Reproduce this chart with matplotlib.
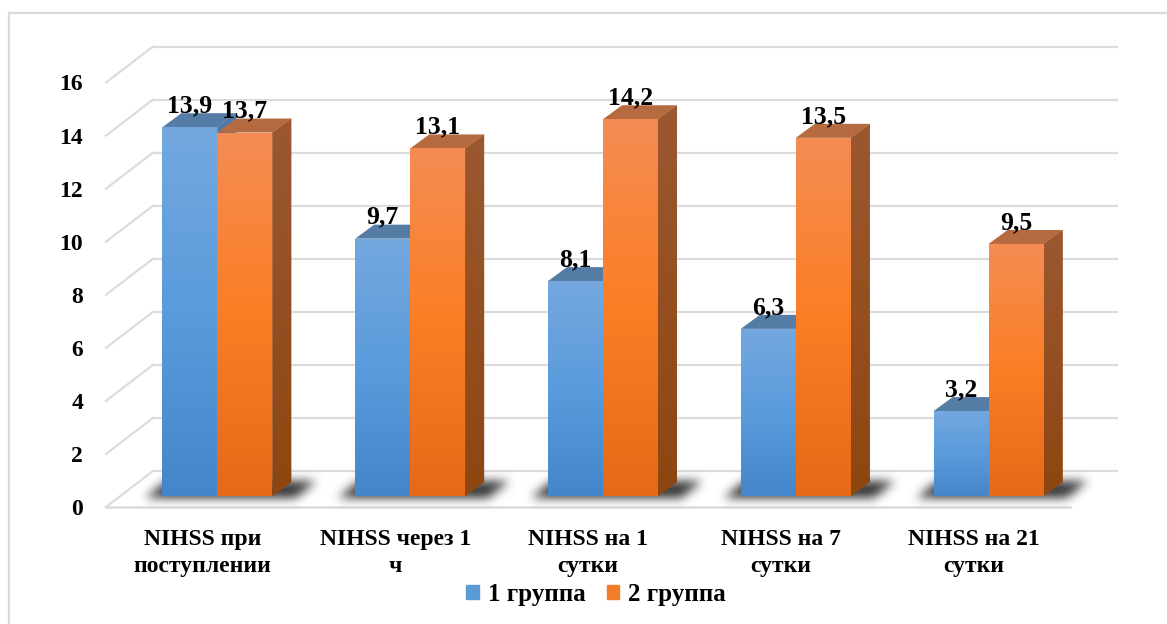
import numpy as np
import matplotlib
matplotlib.use("Agg")
import matplotlib.pyplot as plt
from matplotlib.patches import Polygon, Patch
from matplotlib.transforms import IdentityTransform, Affine2D
from matplotlib.lines import Line2D

categories = ["NIHSS при\nпоступлении", "NIHSS через 1\nч", "NIHSS на 1\nсутки",
              "NIHSS на 7\nсутки", "NIHSS на 21\nсутки"]
group1 = [13.9, 9.7, 8.1, 6.3, 3.2]
group2 = [13.7, 13.1, 14.2, 13.5, 9.5]
series_names = ["1 группа", "2 группа"]
y_ticks = [0, 2, 4, 6, 8, 10, 12, 14, 16]

W, H = 1167, 624
plt.rcParams["font.family"] = ["Liberation Serif", "DejaVu Serif"]
plt.rcParams["font.weight"] = "bold"
fig = plt.figure(figsize=(W / 100, H / 100), dpi=100, facecolor="white")
L, R, Y0, Ytop = 106, 1070, 507, 82.5
ax = fig.add_axes([L / W, (H - Y0) / H, (R - L) / W, (Y0 - Ytop) / H])
PX = (R - L) / 5
PY = (Y0 - Ytop) / 16
ddx = lambda p: p / PX
ddy = lambda p: p / PY
GRID = "#dcdcdc"

# frame of the chart: top and left edges only are visible
fig.add_artist(Line2D([8.5 / W, 1], [1 - 13 / H, 1 - 13 / H], color="#d9d9d9", lw=1.6, transform=fig.transFigure))
fig.add_artist(Line2D([8.5 / W, 8.5 / W], [1 - 13 / H, 0], color="#d9d9d9", lw=1.6, transform=fig.transFigure))

# walls
for t in y_ticks:
    ax.plot([-0.5, -0.5 + ddx(47)], [t, t + ddy(36)], color=GRID, lw=1.6, clip_on=False, zorder=1)
    ax.plot([-0.5 + ddx(47), 4.5 + ddx(47)], [t + ddy(36)] * 2, color=GRID, lw=1.6, clip_on=False, zorder=1)
ax.plot([-0.5, 4.5], [0, 0], color=GRID, lw=1.8, clip_on=False, zorder=1)

x = np.arange(5)
w = 55 / PX
fx, fy = ddx(15), ddy(11)
bx, by = ddx(19), ddy(14)

ax.set_xlim(-0.5, 4.5)
ax.set_ylim(0, 16)
fig.canvas.draw()


def ramp(stops, n=200):
    stops = [matplotlib.colors.to_rgb(c) for c in stops]
    pos = np.linspace(0, 1, len(stops))
    t = np.linspace(0, 1, n)
    return np.stack([np.interp(t, pos, [s[i] for s in stops]) for i in range(3)], axis=1)[:, None, :]


# floor shadows
yy, xx = np.mgrid[0:H, 0:W]
mask = np.zeros((H, W))
for c in x:
    px_c = ax.transData.transform((c + fx, 0))[0]
    left = px_c - 55 - 17
    top, bot = 481, 497
    slant = (bot - yy) / (bot - top) * 20
    mask[(yy >= top) & (yy <= bot) & (xx >= left + slant) & (xx <= left + 150 + slant)] = 1
rad = 16
kernel = np.exp(-np.arange(-rad, rad + 1) ** 2 / (2 * 5.0 ** 2))
kernel /= kernel.sum()
for axis in (0, 1):
    mask = sum(k * np.roll(mask, s, axis=axis) for k, s in zip(kernel, range(-rad, rad + 1)))
shadow = np.zeros((H, W, 4))
shadow[..., :3] = 0.2
shadow[..., 3] = np.clip(mask * 1.0, 0, 1)
ax.imshow(shadow, extent=(0, W, H, 0), origin="upper",
          transform=IdentityTransform() + Affine2D().scale(1, -1).translate(0, H),
          aspect="auto", zorder=2, clip_on=False, interpolation="nearest")

styles = [
    dict(front=["#74a8df", "#5a9bdc", "#4586ca"], side=["#4f7aa6", "#3c6b9c"], top="#557ca5"),
    dict(front=["#f58c54", "#fb7e24", "#e46a18"], side=["#9b5831", "#8e4610"], top="#b66a3f"),
]
z = 3
for values, off, st in zip((group1, group2), (-w / 2, w / 2), styles):
    bars = ax.bar(x + fx + off, values, w, bottom=fy, color=st["front"][1], zorder=z, linewidth=0)
    for b, v in zip(bars, values):
        x0, x1 = b.get_x(), b.get_x() + b.get_width()
        y0, y1 = b.get_y(), b.get_y() + b.get_height()
        side = Polygon([(x1, y0), (x1, y1), (x1 + bx, y1 + by), (x1 + bx, y0 + by)], closed=True,
                       fc=st["side"][0], ec="none", zorder=z)
        ax.add_patch(side)
        im = ax.imshow(ramp(st["side"]), extent=(x1, x1 + bx, y0, y1 + by), origin="upper", aspect="auto", zorder=z)
        im.set_clip_path(side)
        topf = Polygon([(x0, y1), (x1, y1), (x1 + bx, y1 + by), (x0 + bx, y1 + by)], closed=True,
                       fc=st["top"], ec="none", zorder=z)
        ax.add_patch(topf)
        im2 = ax.imshow(ramp(st["front"]), extent=(x0, x1, y0, y1), origin="upper", aspect="auto", zorder=z + 0.5)
        im2.set_clip_path(b)
        ax.annotate(f"{v:.1f}".replace(".", ","), xy=((x0 + x1) / 2, y1), xytext=(0, 15),
                    textcoords="offset pixels", ha="center", va="baseline", fontsize=18.5,
                    fontweight="bold", color="black", zorder=20, annotation_clip=False)
    z += 1

ax.set_xlim(-0.5, 4.5)
ax.set_ylim(0, 16)
ax.set_xticks(x, categories)
ax.set_yticks(y_ticks)
ax.tick_params(axis="both", length=0, colors="black")
ax.tick_params(axis="y", pad=16.5, labelsize=17)
ax.tick_params(axis="x", pad=16, labelsize=17)
for lab in ax.get_xticklabels():
    lab.set_linespacing(1.38)
for s in ax.spines.values():
    s.set_visible(False)
ax.patch.set_visible(False)

handles = [Patch(color="#5b9bd5"), Patch(color="#f07c2c")]
fig.legend(handles, series_names, ncol=2, frameon=False, loc="center", bbox_to_anchor=(596 / W, 1 - 594 / H),
           handlelength=0.5, handleheight=0.5, handletextpad=0.35, columnspacing=0.85,
           prop={"size": 18, "weight": "bold"})

fig.savefig("out.png", dpi=100, facecolor="white")
